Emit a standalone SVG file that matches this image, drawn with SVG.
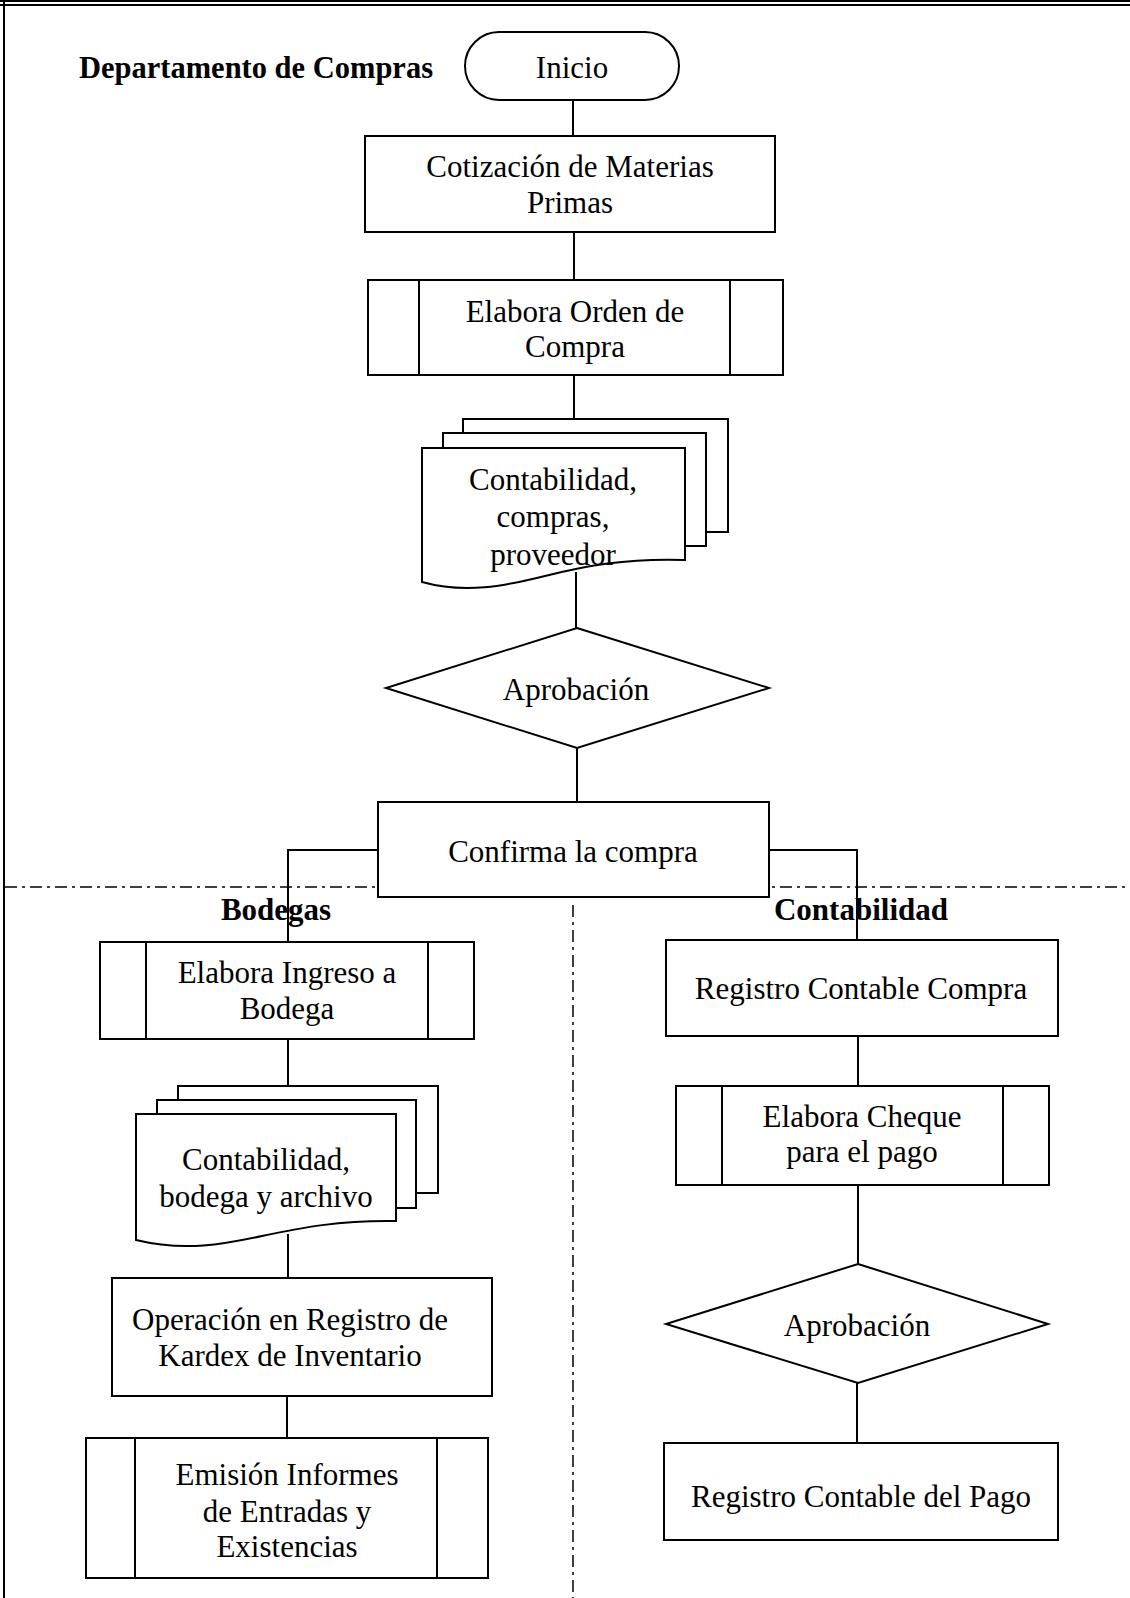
<svg xmlns="http://www.w3.org/2000/svg" width="1130" height="1598" viewBox="0 0 1130 1598">
<style>
.s{fill:#fff;stroke:#000;stroke-width:2}
.l{fill:none;stroke:#000;stroke-width:2}
.d{fill:none;stroke:#000;stroke-width:1.5;stroke-dasharray:12 5 3 5}
text{font-family:"Liberation Serif","Times New Roman",serif;font-size:31px;fill:#000;text-anchor:middle}
.b{font-weight:bold}
</style>
<rect width="1130" height="1598" fill="#fff"/>
<g id="frame">
<rect x="0" y="0" width="1130" height="2" fill="#000"/>
<rect x="0" y="4" width="1130" height="2" fill="#000"/>
<rect x="3" y="0" width="2" height="1598" fill="#000"/>
<line class="d" x1="5" y1="887" x2="1130" y2="887"/>
<line class="d" x1="573" y1="905" x2="573" y2="1598"/>
</g>
<g id="connectors">
<line class="l" x1="573" y1="100" x2="573" y2="136"/>
<line class="l" x1="574" y1="232" x2="574" y2="280"/>
<line class="l" x1="574" y1="375" x2="574" y2="419"/>
<line class="l" x1="576" y1="572" x2="576" y2="628"/>
<line class="l" x1="577" y1="748" x2="577" y2="802"/>
<polyline class="l" points="378,850 288,850 288,942"/>
<polyline class="l" points="769,850 857,850 857,940"/>
<line class="l" x1="288" y1="1039" x2="288" y2="1086"/>
<line class="l" x1="288" y1="1234" x2="288" y2="1278"/>
<line class="l" x1="287" y1="1396" x2="287" y2="1438"/>
<line class="l" x1="858" y1="1036" x2="858" y2="1086"/>
<line class="l" x1="858" y1="1185" x2="858" y2="1264"/>
<line class="l" x1="857" y1="1383" x2="857" y2="1443"/>
</g>
<g id="title"><text class="b" x="79" y="78" style="text-anchor:start" textLength="354" lengthAdjust="spacingAndGlyphs">Departamento de Compras</text></g>
<g id="inicio">
<rect class="s" x="465" y="32" width="214" height="68" rx="34"/>
<text x="572" y="78">Inicio</text>
</g>
<g id="cotizacion">
<rect class="s" x="365" y="136" width="410" height="96"/>
<text x="570" y="177">Cotización de Materias</text>
<text x="570" y="213">Primas</text>
</g>
<g id="orden">
<rect class="s" x="368" y="280" width="415" height="95"/>
<line class="l" x1="419" y1="280" x2="419" y2="375"/>
<line class="l" x1="730" y1="280" x2="730" y2="375"/>
<text x="575" y="322">Elabora Orden de</text>
<text x="575" y="357">Compra</text>
</g>
<g id="doc1">
<rect class="s" x="463" y="419" width="265" height="113"/>
<rect class="s" x="443" y="433" width="263" height="113"/>
<path class="s" d="M422,448 H685 V560 C625,558 585,566 545,576 C505,586 465,594 422,582 Z"/>
<text x="553" y="490">Contabilidad,</text>
<text x="553" y="527">compras,</text>
<text x="553" y="565">proveedor</text>
</g>
<g id="aprobacion1">
<polygon class="s" points="577,628 769,688 577,748 386,688"/>
<text x="576" y="700">Aprobación</text>
</g>
<g id="confirma">
<rect class="s" x="378" y="802" width="391" height="95"/>
<text x="573" y="862">Confirma la compra</text>
</g>
<g id="bodegas"><text class="b" x="276" y="920">Bodegas</text></g>
<g id="contabilidad"><text class="b" x="861" y="920">Contabilidad</text></g>
<g id="ingreso">
<rect class="s" x="100" y="942" width="374" height="97"/>
<line class="l" x1="146" y1="942" x2="146" y2="1039"/>
<line class="l" x1="428" y1="942" x2="428" y2="1039"/>
<text x="287" y="983">Elabora Ingreso a</text>
<text x="287" y="1019">Bodega</text>
</g>
<g id="doc2">
<rect class="s" x="178" y="1086" width="260" height="107"/>
<rect class="s" x="157" y="1100" width="259" height="108"/>
<path class="s" d="M136,1114 H396 V1221 C340,1220 300,1228 262,1236 C225,1244 185,1252 136,1240 Z"/>
<text x="266" y="1170">Contabilidad,</text>
<text x="266" y="1207">bodega y archivo</text>
</g>
<g id="kardex">
<rect class="s" x="112" y="1278" width="380" height="118"/>
<text x="290" y="1330">Operación en Registro de</text>
<text x="290" y="1366">Kardex de Inventario</text>
</g>
<g id="emision">
<rect class="s" x="86" y="1438" width="402" height="140"/>
<line class="l" x1="135" y1="1438" x2="135" y2="1578"/>
<line class="l" x1="437" y1="1438" x2="437" y2="1578"/>
<text x="287" y="1485">Emisión Informes</text>
<text x="287" y="1522">de Entradas y</text>
<text x="287" y="1557">Existencias</text>
</g>
<g id="registro-compra">
<rect class="s" x="666" y="940" width="392" height="96"/>
<text x="861" y="999">Registro Contable Compra</text>
</g>
<g id="cheque">
<rect class="s" x="676" y="1086" width="373" height="99"/>
<line class="l" x1="722" y1="1086" x2="722" y2="1185"/>
<line class="l" x1="1003" y1="1086" x2="1003" y2="1185"/>
<text x="862" y="1127">Elabora Cheque</text>
<text x="862" y="1162">para el pago</text>
</g>
<g id="aprobacion2">
<polygon class="s" points="858,1264 1048,1324 858,1383 666,1324"/>
<text x="857" y="1336">Aprobación</text>
</g>
<g id="registro-pago">
<rect class="s" x="664" y="1443" width="394" height="97"/>
<text x="861" y="1507">Registro Contable del Pago</text>
</g>
</svg>
